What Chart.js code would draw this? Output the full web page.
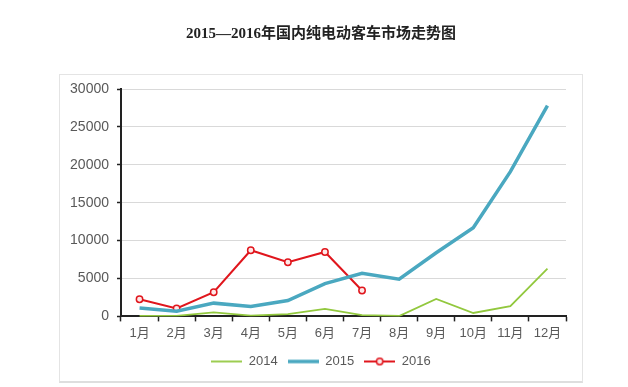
<!DOCTYPE html>
<html>
<head>
<meta charset="utf-8">
<script src="https://cdn.jsdelivr.net/npm/chart.js@4"></script>
<style>
  html, body { margin: 0; padding: 0; background: #fff; }
  #wrap { position: relative; width: 628px; height: 387px; }
  #frame {
    position: absolute; left: 59px; top: 74px; width: 522px; height: 306px;
    border: 1px solid #e4e4e4; border-bottom: 2px solid #dedede;
  }
  canvas { position: absolute; left: 0; top: 0; }
</style>
</head>
<body>
<div id="wrap">
  <div id="frame"></div>
  <canvas id="trendChart" width="628" height="387"></canvas>
</div>
<script>
var months = ['1月', '2月', '3月', '4月', '5月', '6月', '7月', '8月', '9月', '10月', '11月', '12月'];
var sales2014 = [50, 80, 530, 100, 300, 980, 180, 50, 2300, 450, 1340, 6300];
var sales2015 = [1100, 680, 1750, 1300, 2100, 4330, 5700, 4900, 8400, 11700, 19100, 27800];
var sales2016 = [2260, 1060, 3190, 8730, 7140, 8500, 3410, null, null, null, null, null];
var yTicks = [0, 5000, 10000, 15000, 20000, 25000, 30000];

var green = '#92c83e';
var blue = '#4aa8c0';
var red = '#e0161d';

// small legend sample: a line, with a circle for the marked series
function legendIcon(color, width, marker) {
    var c = document.createElement('canvas');
    c.width = 31;
    c.height = 10;
    var g = c.getContext('2d');
    g.strokeStyle = color;
    g.lineWidth = width;
    g.beginPath();
    g.moveTo(0, 5);
    g.lineTo(31, 5);
    g.stroke();
    if (marker) {
        g.lineWidth = 1.5;
        g.fillStyle = '#fde8e8';
        g.beginPath();
        g.arc(15.5, 5, 3.2, 0, Math.PI * 2);
        g.fill();
        g.stroke();
    }
    return c;
}
var icons = [legendIcon(green, 1.8, false), legendIcon(blue, 3.5, false), legendIcon(red, 2, true)];

// let the y labels draw left of the narrow axis box without clipping
var unclipY = {
    id: 'unclipY',
    afterLayout: function (chart) { chart.scales.y.left = 0; }
};

Chart.defaults.font.family = '"Liberation Sans", Arial, "Noto Sans CJK SC", sans-serif';
Chart.defaults.color = '#595959';

document.addEventListener('DOMContentLoaded', function () {
    var ctx = document.getElementById('trendChart').getContext('2d');
    var trendChart = new Chart(ctx, {
        type: 'line',
        data: {
            labels: months,
            datasets: [{
                label: '2014',
                data: sales2014,
                borderColor: green,
                borderWidth: 1.8,
                pointRadius: 0,
                tension: 0
            }, {
                label: '2015',
                data: sales2015,
                borderColor: blue,
                borderWidth: 3.5,
                pointRadius: 0,
                tension: 0
            }, {
                label: '2016',
                data: sales2016,
                borderColor: red,
                borderWidth: 2,
                pointRadius: 3.2,
                pointBorderWidth: 1.5,
                pointBackgroundColor: '#fde8e8',
                pointBorderColor: red,
                spanGaps: false,
                tension: 0
            }]
        },
        plugins: [unclipY],
        options: {
            responsive: false,
            animation: false,
            layout: { padding: { left: 76, right: 62, top: 0, bottom: 9 } },
            scales: {
                x: {
                    offset: true,
                    grid: {
                        offset: true,
                        drawOnChartArea: false,
                        drawTicks: true,
                        tickLength: 5,
                        tickColor: '#222',
                        tickWidth: 1.5
                    },
                    border: { color: '#222', width: 2 },
                    ticks: { font: { size: 13 }, padding: 4, maxRotation: 0 }
                },
                y: {
                    min: 0,
                    max: 30000,
                    afterFit: function (scale) { scale.width = 45; },
                    afterBuildTicks: function (scale) {
                        scale.ticks = yTicks.map(function (v) { return { value: v }; });
                    },
                    grid: {
                        color: '#d9d9d9',
                        lineWidth: 1,
                        drawTicks: true,
                        tickLength: 4,
                        tickColor: '#222',
                        tickWidth: 1.5
                    },
                    border: { color: '#222', width: 2 },
                    ticks: {
                        font: { size: 14 },
                        padding: 8,
                        callback: function (v) { return String(v); }
                    }
                }
            },
            plugins: {
                title: {
                    display: true,
                    text: '2015—2016年国内纯电动客车市场走势图',
                    color: '#222',
                    font: { family: '"Liberation Serif", "Noto Sans CJK SC", serif', size: 15, weight: 'bold' },
                    padding: { top: 25, bottom: 46 }
                },
                legend: {
                    position: 'bottom',
                    labels: {
                        usePointStyle: true,
                        pointStyleWidth: 31,
                        boxHeight: 10,
                        padding: 10,
                        color: '#595959',
                        font: { size: 13 },
                        generateLabels: function (chart) {
                            var items = Chart.defaults.plugins.legend.labels.generateLabels(chart);
                            items.forEach(function (item, i) { item.pointStyle = icons[i]; });
                            return items;
                        }
                    }
                },
                tooltip: { enabled: false }
            }
        }
    });
});
</script>
</body>
</html>
